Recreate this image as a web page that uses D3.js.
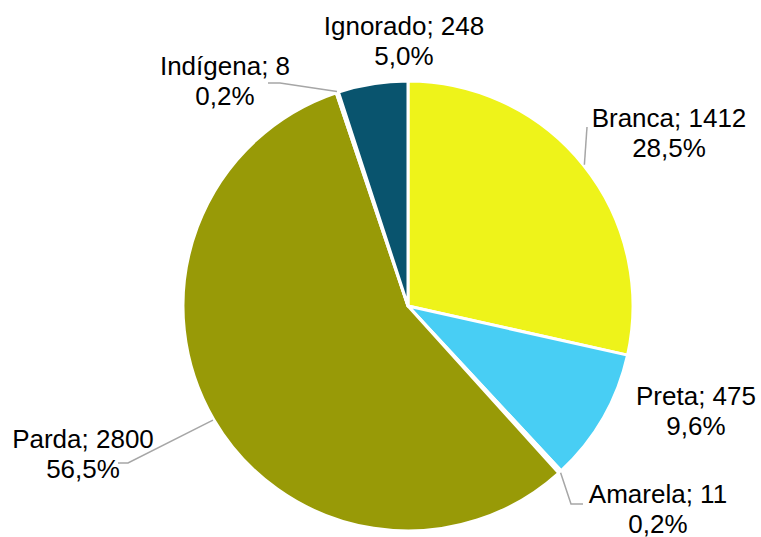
<!DOCTYPE html>
<html>
<head>
<meta charset="utf-8">
<script src="https://cdn.jsdelivr.net/npm/d3@7"></script>
<style>
  body { margin: 0; background: #fff; }
  text { font-family: "Liberation Sans", Arial, sans-serif; font-size: 26px; fill: #000; }
</style>
</head>
<body>
<svg id="chart" width="761" height="537"></svg>
<script>
const categories = ['Branca', 'Preta', 'Amarela', 'Parda', 'Indígena', 'Ignorado'];
const values = [1412, 475, 11, 2800, 8, 248];
const percentLabels = ['28,5%', '9,6%', '0,2%', '56,5%', '0,2%', '5,0%'];
const colors = ['#eef31a', '#48cef4', '#f2a33a', '#989a07', '#c0504d', '#09546e'];

const width = 761, height = 537;
const cx = 408, cy = 306, radius = 225;

// label placement (centre x, first baseline) and leader elbow, per slice
const labelLayout = [
  { x: 669, y: 127, leader: [[587, 127]] },
  { x: 696, y: 405, leader: null },
  { x: 658, y: 503, leader: [[571, 504], [583, 504]] },
  { x: 83, y: 448, leader: [[128, 463], [118, 463]] },
  { x: 225, y: 75, leader: [[280, 83], [268, 83]] },
  { x: 404, y: 35, leader: null }
];

const svg = d3.select('#chart');
const g = svg.append('g').attr('transform', `translate(${cx},${cy})`);

const pie = d3.pie().sort(null).value(d => d);
const arcs = pie(values);

const arc = d3.arc().innerRadius(0).outerRadius(radius);

g.selectAll('path.slice')
  .data(arcs)
  .join('path')
  .attr('class', 'slice')
  .attr('d', arc)
  .attr('fill', (d, i) => colors[i])
  .attr('stroke', '#fff')
  .attr('stroke-width', 3)
  .attr('stroke-linejoin', 'round');

// leader lines from slice edge to label
arcs.forEach((d, i) => {
  const lay = labelLayout[i];
  if (!lay.leader) return;
  const a = (d.startAngle + d.endAngle) / 2;
  const start = [cx + (radius + 1) * Math.sin(a), cy - (radius + 1) * Math.cos(a)];
  const pts = [start].concat(lay.leader);
  svg.append('path')
    .attr('d', d3.line()(pts))
    .attr('fill', 'none')
    .attr('stroke', '#a6a6a6')
    .attr('stroke-width', 1.5);
});

const labels = svg.selectAll('text.lbl')
  .data(arcs)
  .join('text')
  .attr('class', 'lbl')
  .attr('text-anchor', 'middle')
  .attr('x', (d, i) => labelLayout[i].x)
  .attr('y', (d, i) => labelLayout[i].y);

labels.append('tspan')
  .attr('x', (d, i) => labelLayout[i].x)
  .text((d, i) => `${categories[i]}; ${values[i]}`);
labels.append('tspan')
  .attr('x', (d, i) => labelLayout[i].x)
  .attr('dy', 30)
  .text((d, i) => percentLabels[i]);
</script>
</body>
</html>
